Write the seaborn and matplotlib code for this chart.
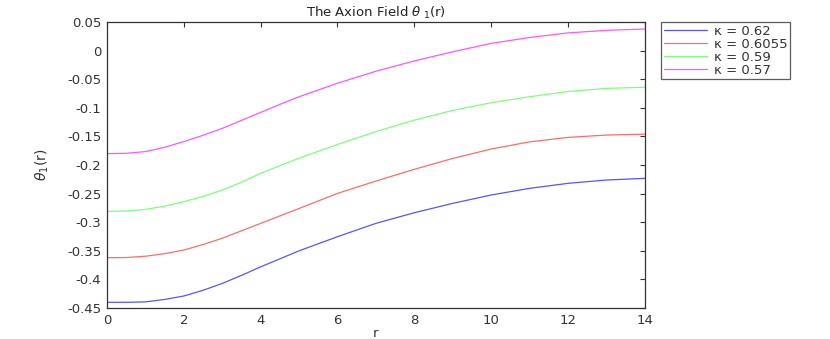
import numpy as np
import pandas as pd
import seaborn as sns
from matplotlib import pyplot as plt

r = [0, 0.5, 1, 1.5, 2, 2.5, 3, 3.5, 4, 4.5, 5, 6, 7, 8, 9, 10, 11, 12, 13, 14]

theta_062 = [-0.440, -0.440, -0.4393, -0.435, -0.429, -0.419, -0.407, -0.393,
             -0.378, -0.364, -0.350, -0.3253, -0.302, -0.2834, -0.267, -0.2524,
             -0.2408, -0.232, -0.2262, -0.2233]
theta_06055 = [-0.362, -0.3617, -0.3595, -0.355, -0.3486, -0.339, -0.328, -0.315,
               -0.302, -0.289, -0.276, -0.2496, -0.228, -0.2075, -0.1885, -0.172,
               -0.1595, -0.1517, -0.1476, -0.146]
theta_059 = [-0.281, -0.2805, -0.2775, -0.272, -0.264, -0.255, -0.2437, -0.230,
             -0.2145, -0.201, -0.188, -0.164, -0.1415, -0.1215, -0.1045, -0.091,
             -0.0806, -0.0715, -0.066, -0.064]
theta_057 = [-0.180, -0.1795, -0.1765, -0.169, -0.159, -0.148, -0.136, -0.122,
             -0.108, -0.094, -0.0806, -0.057, -0.036, -0.018, -0.002, 0.0127,
             0.023, 0.031, 0.0355, 0.0378]

labels = ['κ = 0.62', 'κ = 0.6055', 'κ = 0.59', 'κ = 0.57']
colors = ['#5555ff', '#ff6b6b', '#7dff7d', '#ff55ff']

df = pd.DataFrame({
    'r': r * 4,
    'theta': theta_062 + theta_06055 + theta_059 + theta_057,
    'kappa': [lab for lab in labels for _ in r],
})

sns.set_style('white')
plt.rcParams['font.family'] = ['DejaVu Sans']
plt.rcParams['font.size'] = 9

fig = plt.figure(figsize=(8.3, 3.39), dpi=100)
ax = fig.add_axes([0.1289, 0.0914, 0.648, 0.8436])

sns.lineplot(data=df, x='r', y='theta', hue='kappa', palette=colors,
             linewidth=0.9, ax=ax)

ax.set_xlim(0, 14)
ax.set_ylim(-0.45, 0.05)
ax.set_xticks(np.arange(0, 15, 2))
ax.set_yticks(np.arange(-0.45, 0.051, 0.05))
ax.set_yticklabels(['-0.45', '-0.4', '-0.35', '-0.3', '-0.25', '-0.2', '-0.15',
                    '-0.1', '-0.05', '0', '0.05'])
ax.tick_params(direction='in', length=3.5, width=0.8, top=True, right=True,
               labelsize=9.5, colors='#333333', pad=4)
for sp in ax.spines.values():
    sp.set_color('#333333')
    sp.set_linewidth(0.9)

ax.set_title(r'The Axion Field $\theta_{\ 1}$(r)', fontsize=9.5, color='#222222', pad=4)
ax.set_xlabel('r', fontsize=9.5, color='#333333', labelpad=0)
ax.set_ylabel(r'$\theta_1$(r)', fontsize=10, color='#333333', labelpad=12)

leg = ax.legend(loc='upper left', bbox_to_anchor=(1.03, 1.0), frameon=True,
                fontsize=9.5, handlelength=3.3, borderpad=0.2, labelspacing=0.0,
                fancybox=False, borderaxespad=0, handletextpad=0.5)
leg.get_frame().set_edgecolor('#333333')
leg.get_frame().set_linewidth(0.9)
for t in leg.get_texts():
    t.set_color('#333333')

fig.savefig('out.png', dpi=100)
